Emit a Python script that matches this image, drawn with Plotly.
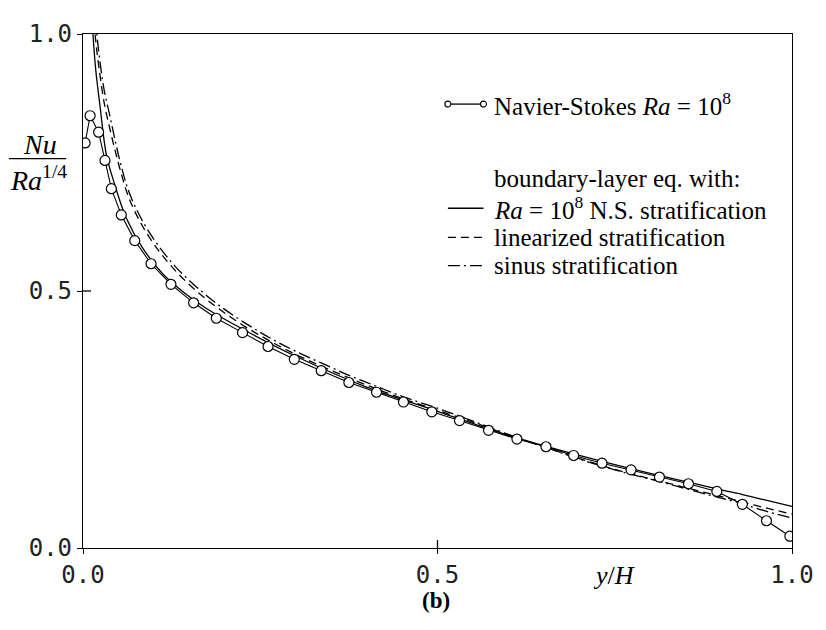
import plotly.graph_objects as go

# ---- data ----
ns_x = [0.003, 0.010, 0.022, 0.031, 0.040, 0.054, 0.073, 0.096, 0.124, 0.156, 0.188,
        0.225, 0.261, 0.298, 0.336, 0.375, 0.414, 0.452, 0.492, 0.531, 0.572, 0.612,
        0.653, 0.692, 0.732, 0.773, 0.813, 0.854, 0.894, 0.930, 0.964, 0.997]
ns_y = [0.788, 0.841, 0.809, 0.754, 0.699, 0.648, 0.598, 0.553, 0.513, 0.477, 0.447,
        0.419, 0.392, 0.367, 0.345, 0.322, 0.303, 0.284, 0.265, 0.248, 0.229, 0.212,
        0.197, 0.180, 0.165, 0.152, 0.138, 0.125, 0.110, 0.085, 0.053, 0.023]

bl_ns_x = [0.006, 0.010, 0.014, 0.018, 0.024, 0.033, 0.045, 0.061, 0.084, 0.112, 0.145,
           0.173, 0.225, 0.30, 0.40, 0.50, 0.60, 0.70, 0.80, 0.86, 0.90, 0.93, 0.96, 1.0]
bl_ns_y = [1.25, 1.10, 1.00, 0.93, 0.86, 0.765, 0.706, 0.642, 0.584, 0.534, 0.494,
           0.467, 0.426, 0.373, 0.313, 0.266, 0.219, 0.180, 0.145, 0.126, 0.113, 0.104,
           0.094, 0.081]

lin_x = [0.012, 0.017, 0.022, 0.030, 0.038, 0.045, 0.053, 0.065, 0.084, 0.107, 0.132,
         0.160, 0.191, 0.226, 0.262, 0.298, 0.336, 0.375, 0.413, 0.452, 0.50, 0.55,
         0.60, 0.65, 0.70, 0.75, 0.80, 0.843, 0.886, 0.92, 0.96, 1.0]
lin_y = [1.10, 1.00, 0.94, 0.865, 0.815, 0.775, 0.733, 0.680, 0.626, 0.578, 0.537,
         0.500, 0.466, 0.433, 0.404, 0.378, 0.354, 0.331, 0.310, 0.290, 0.268, 0.245,
         0.220, 0.197, 0.174, 0.153, 0.135, 0.120, 0.105, 0.093, 0.079, 0.066]

sin_x = [0.010, 0.0195, 0.025, 0.030, 0.038, 0.045, 0.053, 0.065, 0.084, 0.107, 0.132,
         0.160, 0.191, 0.226, 0.262, 0.298, 0.336, 0.375, 0.413, 0.452, 0.50, 0.55,
         0.60, 0.65, 0.70, 0.75, 0.80, 0.843, 0.886, 0.92, 0.96, 1.0]
sin_y = [1.16, 1.00, 0.935, 0.890, 0.840, 0.795, 0.748, 0.692, 0.636, 0.587, 0.545,
         0.508, 0.473, 0.440, 0.410, 0.384, 0.360, 0.336, 0.315, 0.294, 0.272, 0.247,
         0.221, 0.197, 0.173, 0.152, 0.134, 0.118, 0.102, 0.090, 0.073, 0.058]

tick_vals = [0.0, 0.5, 1.0]
tick_text = ["0.0", "0.5", "1.0"]

legend_texts = [
    "Navier-Stokes <i>Ra</i> = 10<sup>8</sup>",
    "boundary-layer eq. with:",
    "<i>Ra</i> = 10<sup>8</sup> N.S. stratification",
    "linearized stratification",
    "sinus stratification",
]

# ---- layout geometry ----
# The page body has an 8px margin, so the figure is placed 8px right/down in the window.
OFF = 8
W, H = 826 - OFF, 630 - OFF
PLOT_LEFT, PLOT_RIGHT, PLOT_TOP, PLOT_BOTTOM = 83, 800, 20, 548  # window pixels
L = PLOT_LEFT - OFF
T = PLOT_TOP - OFF
R = W - (PLOT_RIGHT - OFF)
B = H - (PLOT_BOTTOM - OFF)
PW = PLOT_RIGHT - PLOT_LEFT
PH = PLOT_BOTTOM - PLOT_TOP


def px(xp):
    return (xp - PLOT_LEFT) / PW


def py(yp):
    return (PLOT_BOTTOM - yp) / PH


SERIF = "Liberation Serif"
MONO = "DejaVu Sans Mono"
LW = 1.3

fig = go.Figure()
fig.add_trace(go.Scatter(x=bl_ns_x, y=bl_ns_y, mode="lines", line=dict(color="black", width=LW),
                         line_shape="spline", showlegend=False))
fig.add_trace(go.Scatter(x=lin_x, y=lin_y, mode="lines",
                         line=dict(color="black", width=LW, dash="8px,5px"),
                         line_shape="spline", showlegend=False))
fig.add_trace(go.Scatter(x=sin_x, y=sin_y, mode="lines",
                         line=dict(color="black", width=LW, dash="12px,4px,2px,4px"),
                         line_shape="spline", showlegend=False))
fig.add_trace(go.Scatter(x=ns_x, y=ns_y, mode="lines+markers",
                         line=dict(color="black", width=1.1),
                         marker=dict(symbol="circle", size=10, color="white",
                                     line=dict(color="black", width=1.2)),
                         showlegend=False))

axis_common = dict(range=[0, 1], showline=True, linecolor="black", linewidth=LW, mirror=True,
                   ticks="outside", ticklen=5, tickwidth=LW, tickcolor="black",
                   tickvals=tick_vals, ticktext=tick_text, showgrid=False, zeroline=False,
                   ticklabeloverflow="allow",
                   tickfont=dict(family=MONO, size=24, color="#222"))
fig.update_xaxes(**axis_common)
fig.update_yaxes(**axis_common)

shapes = []
# inner halves of the crossing ticks at 0.5
shapes.append(dict(type="line", xref="x", yref="y", ysizemode="pixel", yanchor=0,
                   x0=0.5, x1=0.5, y0=0, y1=8, line=dict(color="black", width=LW)))
shapes.append(dict(type="line", xref="x", yref="y", xsizemode="pixel", xanchor=0,
                   x0=0, x1=8, y0=0.5, y1=0.5, line=dict(color="black", width=LW)))
# fraction bar of the y label
shapes.append(dict(type="line", xref="paper", yref="paper", x0=px(8), x1=px(66),
                   y0=py(148), y1=py(148), line=dict(color="black", width=LW)))

annotations = [
    dict(text="<i>Nu</i>", x=px(40), y=py(133), xref="paper", yref="paper",
         showarrow=False, xanchor="center", yanchor="middle",
         font=dict(family=SERIF, size=28, color="black")),
    dict(text="<i>Ra</i><sup>1/4</sup>", x=px(38), y=py(168), xref="paper", yref="paper",
         showarrow=False, xanchor="center", yanchor="middle",
         font=dict(family=SERIF, size=28, color="black")),
    dict(text="<i>y</i>/<i>H</i>", x=px(620), y=py(576), xref="paper", yref="paper",
         showarrow=False, xanchor="center", yanchor="middle",
         font=dict(family=SERIF, size=26, color="black")),
    dict(text="<b>(b)</b>", x=px(440), y=py(602), xref="paper", yref="paper",
         showarrow=False, xanchor="center", yanchor="middle",
         font=dict(family=SERIF, size=23, color="black")),
]

# manual legend
rows = [92, 168, 199, 229, 258]
text_x = 497
for t, r in zip(legend_texts, rows):
    annotations.append(dict(text=t, x=px(text_x), y=py(r), xref="paper", yref="paper",
                            showarrow=False, xanchor="left", yanchor="middle",
                            font=dict(family=SERIF, size=25, color="black")))

s0, s1 = 452, 488
# o—o
shapes.append(dict(type="line", xref="paper", yref="paper", x0=px(s0 + 3), x1=px(s1 - 3),
                   y0=py(rows[0]), y1=py(rows[0]), line=dict(color="black", width=LW)))
for cx in (s0, s1):
    shapes.append(dict(type="circle", xref="paper", yref="paper", xsizemode="pixel",
                       ysizemode="pixel", xanchor=px(cx), yanchor=py(rows[0]),
                       x0=-3, x1=3, y0=-3, y1=3, line=dict(color="black", width=1.1),
                       fillcolor="white"))
for r, d in zip(rows[2:], ["solid", "8px,5px", "12px,4px,2px,4px"]):
    shapes.append(dict(type="line", xref="paper", yref="paper", x0=px(s0), x1=px(s1),
                       y0=py(r), y1=py(r), line=dict(color="black", width=LW, dash=d)))

fig.update_layout(width=W, height=H, margin=dict(l=L, r=R, t=T, b=B),
                  paper_bgcolor="white", plot_bgcolor="white",
                  shapes=shapes, annotations=annotations, showlegend=False)

fig.write_html("out.html")
